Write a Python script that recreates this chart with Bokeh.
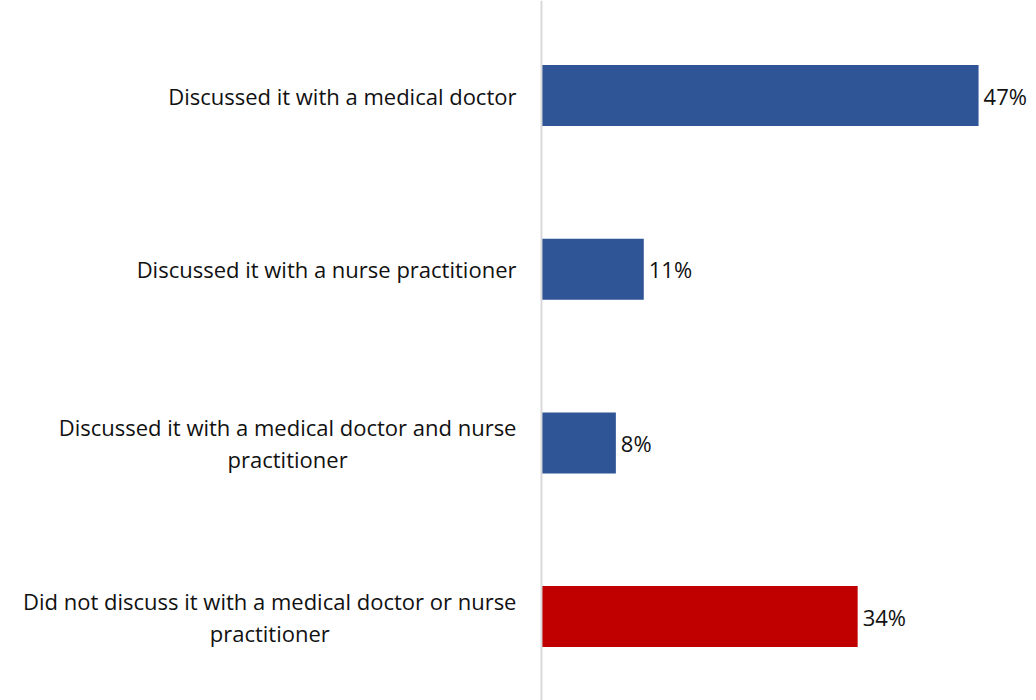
from bokeh.plotting import figure
from bokeh.models import Range1d, Span, ColumnDataSource
from bokeh.core.properties import value
from bokeh.embed import file_html
from bokeh.resources import INLINE

categories = [
    "Discussed it with a medical doctor",
    "Discussed it with a nurse practitioner",
    "Discussed it with a medical doctor and nurse\npractitioner",
    "Did not discuss it with a medical doctor or nurse\npractitioner",
]
values = [47, 11, 8, 34]
colors = ["#2F5597", "#2F5597", "#2F5597", "#C00000"]

FONT = "Open Sans"
ys = list(range(len(categories)))

src = ColumnDataSource(dict(
    y=ys, v=values, c=colors, cat=categories,
    lab=[f"{v}%" for v in values], zero=[0] * len(values),
))

p = figure(width=1036, height=700,
           x_range=Range1d(-58.17, 53.23), y_range=Range1d(3.483, -0.547),
           x_axis_type=None, y_axis_type=None,
           output_backend="svg", toolbar_location=None, min_border=0)
p.outline_line_color = None
p.background_fill_color = "white"

p.hbar(y="y", left=0, right="v", height=0.351, fill_color="c",
       line_color=None, source=src)

p.add_layout(Span(location=0, dimension="height", line_color="#d9d9d9", line_width=2))

p.text(x="v", y="y", text="lab", source=src, x_offset=5,
       text_baseline="middle", text_align="left",
       text_font=value(FONT), text_font_size="22px", text_color="#111111")

p.text(x="zero", y="y", text="cat", source=src, x_offset=-25,
       anchor="center_right", text_align="center", text_baseline="middle",
       text_line_height=1.07,
       text_font=value(FONT), text_font_size="22px", text_color="#111111")

open("out.html", "w").write(file_html(p, INLINE))
